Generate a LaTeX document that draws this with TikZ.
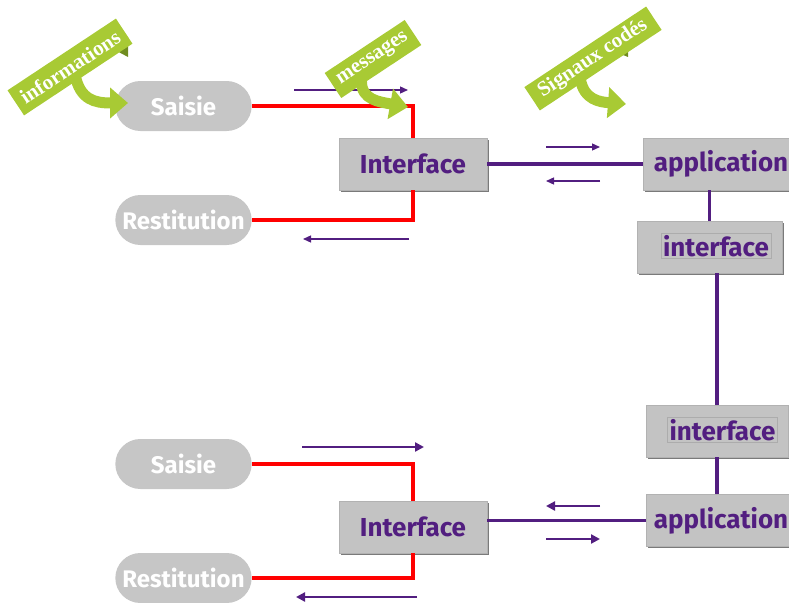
\documentclass[tikz,border=0pt]{standalone}
\usepackage{fontspec}
\setsansfont{Fira Sans}
\newfontfamily\tagfont{Liberation Serif}
\usetikzlibrary{positioning}
\usetikzlibrary{calc}
\usetikzlibrary{shapes.misc}
\usetikzlibrary{shadows}
\usetikzlibrary{arrows.meta}

\definecolor{boxgray}{RGB}{195,195,195}
\definecolor{pillgray}{RGB}{198,198,198}
\definecolor{purp}{RGB}{82,30,128}
\definecolor{tagreen}{RGB}{168,202,52}
\definecolor{tagfold}{RGB}{112,140,32}

\pgfdeclarelayer{front}
\pgfsetlayers{main,front}

\begin{document}
\begin{tikzpicture}[x=1pt, y=-1pt,
    pill/.style={rounded rectangle, fill=pillgray, minimum width=143pt, minimum height=50pt,
        text=white, font=\sffamily\bfseries\fontsize{24}{24}\selectfont},
    box/.style={rectangle, fill=boxgray, draw=gray!60, line width=.6pt, minimum height=52pt,
        drop shadow={shadow xshift=1.8pt, shadow yshift=-1.8pt, fill=gray!70!black, opacity=.8},
        text=purp, font=\sffamily\bfseries\fontsize{26}{26}\selectfont},
    inset/.style={rectangle, fill=boxgray, draw=gray!65, line width=.6pt, inner sep=2pt,
        text=purp, font=\sffamily\bfseries\fontsize{26}{26}\selectfont},
    tag/.style={rectangle, fill=tagreen, text=white, rotate=33.5, minimum height=30pt, inner sep=3pt,
        font=\tagfont\bfseries\fontsize{21}{21}\selectfont},
    garrow/.style={draw=tagreen, line width=11pt, -{Triangle[length=18pt,width=30pt]}},
    redline/.style={draw=red, line width=3.3pt},
    purpline/.style={draw=purp, line width=3.3pt},
    arr/.style={draw=purp, line width=1.3pt, -{Triangle[length=8pt,width=7pt]}},
    arrB/.style={draw=purp, line width=2.3pt, -{Triangle[length=9pt,width=9pt]}}]

    \useasboundingbox (0,0) rectangle (789,602);

    \node[pill] (saisieA) at (183.5,106) {Saisie};
    \node[pill] (restA) at (183.5,220) {Restitution};
    \node[pill] (saisieB) at (183.5,464) {Saisie};
    \node[pill] (restB) at (183.5,578) {Restitution};

    \node[box, minimum width=148pt] (ifaceA) at (413,164) {Interface};
    \node[box, minimum width=148pt] (ifaceB) at (413,527) {Interface};
    \node[box, minimum width=156pt] (appA) at (721,164) {application};
    \node[box, minimum width=150pt] (appB) at (721,520.5) {application};
    \node[box, minimum width=145pt] (ifR1) at (709.5,247) {};
    \node[inset] (ifR1t) at (716,246) {interface};
    \node[box, minimum width=142pt] (ifR2) at (717,431) {};
    \node[inset] (ifR2t) at (722.5,430) {interface};

    \draw[redline] (saisieA.east) -| (ifaceA.north);
    \draw[redline] (ifaceA.south) |- (restA.east);
    \draw[redline] (saisieB.east) -| (ifaceB.north);
    \draw[redline] (ifaceB.south) |- (restB.east);

    \draw[purpline] (ifaceA.east) -- (appA.west);
    \draw[purpline] (ifaceB.east |- appB.west) -- (appB.west);
    \draw[purpline] (ifR1.north) -- (ifR1.north |- appA.south);
    \draw[purpline] (ifR2.north |- ifR1.south) -- (ifR2.north);
    \draw[purpline] (ifR2.south) -- (ifR2.south |- appB.north);

    \draw[arr] (294,90) -- (408,90);
    \draw[arr] (409,239) -- (303,239);
    \draw[arr] (546,147) -- (600,147);
    \draw[arr] (600,181) -- (546,181);
    \draw[arrB] (302,447) -- (424,447);
    \draw[arrB] (417,597) -- (296,597);
    \draw[arrB] (600,506) -- (546,506);
    \draw[arrB] (546,539) -- (600,539);

    \begin{pgfonlayer}{front}
    \node[tag, minimum width=130pt] (infoTag) at (70,67) {informations};
    \node[tag, minimum width=96pt] (msgTag) at (373,59) {messages};
    \node[tag, minimum width=146pt, minimum height=28pt] (sigTag) at (593,58.5) {Signaux codés};
    \end{pgfonlayer}

    \coordinate (infoTip) at (128,103);
    \coordinate (msgTip) at (408,107);
    \coordinate (sigTip) at (626,104);

    \fill[tagfold] (113,49) -- (128,45) -- (128,57) -- cycle;
    \fill[tagfold] (618,53) -- (628,48) -- (628,57) -- cycle;

    \draw[garrow] ($(infoTag.center)!.6!(infoTag.south)$) .. controls (80,100) and (95,103) .. (infoTip);
    \draw[garrow] ($(msgTag.center)!.6!(msgTag.south)!.45!(msgTag.south west)$) .. controls (361,100) and (380,102) .. (msgTip);
    \draw[garrow] ($(sigTag.center)!.6!(sigTag.south)!.3!(sigTag.south west)$) .. controls (584,100) and (600,102) .. (sigTip);
\end{tikzpicture}
\end{document}
